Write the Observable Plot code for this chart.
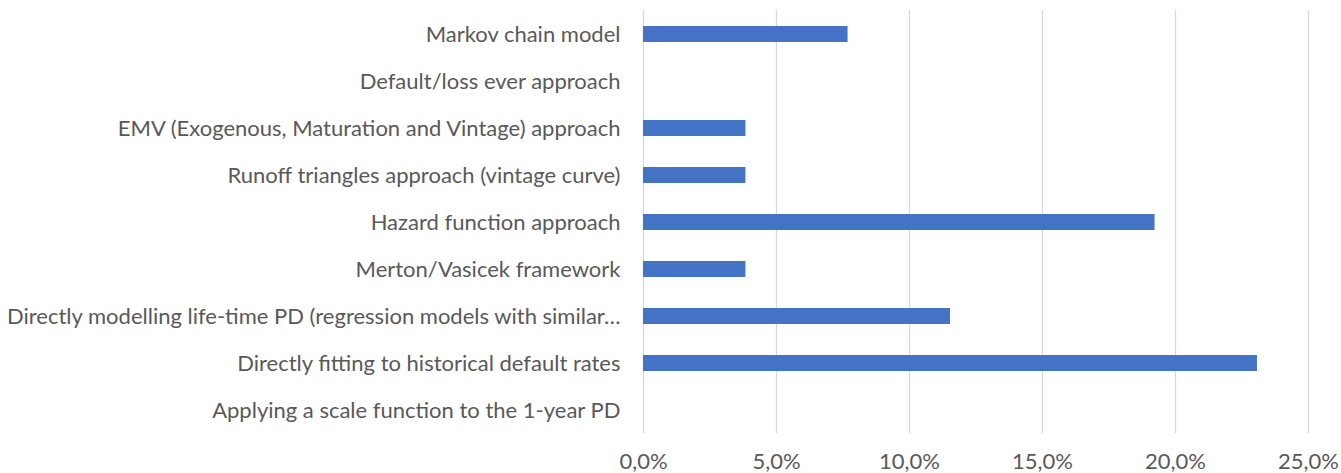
<!DOCTYPE html>
<html>
<head>
<meta charset="utf-8">
<script src="https://cdn.jsdelivr.net/npm/d3@7"></script>
<script src="https://cdn.jsdelivr.net/npm/@observablehq/plot@0.6"></script>
<style>
  html, body { margin: 0; padding: 0; background: #fff; }
  #chart svg { display: block; }
</style>
</head>
<body>
<div id="chart"></div>
<script>
const categories = [
  "Markov chain model",
  "Default/loss ever approach",
  "EMV (Exogenous, Maturation and Vintage) approach",
  "Runoff triangles approach (vintage curve)",
  "Hazard function approach",
  "Merton/Vasicek framework",
  "Directly modelling life-time PD (regression models with similar…",
  "Directly fitting to historical default rates",
  "Applying a scale function to the 1-year PD"
];
const shares = [0.0769, 0, 0.0385, 0.0385, 0.1923, 0.0385, 0.1154, 0.2308, 0];
const xTicks = [0, 0.05, 0.10, 0.15, 0.20, 0.25];

const data = categories.map((c, i) => ({category: c, value: shares[i]}));
const fmt = d => (d * 100).toFixed(1).replace(".", ",") + "%";

const chart = Plot.plot({
  width: 1341,
  height: 473,
  marginLeft: 643,
  marginRight: 33,
  marginTop: 10,
  marginBottom: 40,
  style: {fontFamily: "Lato, 'Open Sans', sans-serif", fontSize: "22px", color: "#595959", background: "#fff"},
  x: {domain: [0, 0.25], ticks: xTicks, tickFormat: fmt, label: null},
  y: {domain: categories, paddingInner: 0.66, paddingOuter: 0.33, label: null},
  marks: [
    Plot.gridX(xTicks, {stroke: "#d9d9d9", strokeOpacity: 1, strokeWidth: 1.3}),
    Plot.barX(data, {x: "value", y: "category", fill: "#4472C4"}),
    Plot.axisX({ticks: xTicks, tickFormat: fmt, tickSize: 0, tickPadding: 20, fontSize: 22, fill: "#595959", label: null}),
    Plot.axisY({tickSize: 0, tickPadding: 23, fontSize: 22, fill: "#595959", label: null, textOverflow: null, lineWidth: Infinity})
  ]
});
document.getElementById("chart").appendChild(chart);
</script>
</body>
</html>
